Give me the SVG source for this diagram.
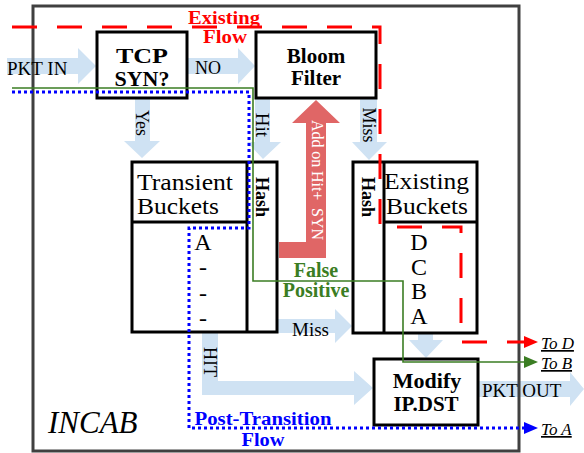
<svg xmlns="http://www.w3.org/2000/svg" width="584" height="453" viewBox="0 0 584 453">
<style>
text{font-family:"Liberation Serif","Times New Roman",serif;fill:#000}
.b{font-weight:bold}
.box{fill:#fff;stroke:#000;stroke-width:3}
.arr{fill:#cfe2f3}
.lbl{font-size:18px}
.rot{font-size:18px;text-anchor:middle;dominant-baseline:central}
.to{font-size:17px;font-style:italic;text-decoration:underline}
</style>
<rect width="584" height="453" fill="#fff"/>

<g id="flow-arrows">
  <polygon class="arr" points="7,58 78,58 78,48 96,66 78,84 78,74 7,74"/>
  <polygon class="arr" points="187,58 238,58 238,48 255,66 238,84 238,74 187,74"/>
  <polygon class="arr" points="135,98 150,98 150,141 160,141 142,158 124,141 135,141"/>
  <polygon class="arr" points="255,98 270,98 270,142 281,142 263,159 247,142 255,142"/>
  <polygon class="arr" points="360,98 377,98 377,142 387,142 369,160 352,142 360,142"/>
  <polygon class="arr" points="277,319 335,319 335,309 352,326 335,343 335,333 277,333"/>
  <polygon class="arr" points="202,332 218,332 218,381 354,381 354,371 373,388 354,405 354,395 202,395"/>
  <polygon class="arr" points="418,333 433,333 433,340 443,340 426,358 409,340 418,340"/>
  <polygon class="arr" points="478,381 570,381 570,372 584,389 570,406 570,397 478,397"/>
  <polygon fill="#e06666" points="316,100 340,123 326,123 326,258 279,258 279,242 306,242 306,123 292,123"/>
</g>

<rect id="incab" x="33" y="6" width="486" height="445" fill="none" stroke="#404040" stroke-width="3"/>

<g id="tcp-syn">
  <rect class="box" x="97" y="32" width="90" height="66"/>
  <text class="b" x="142" y="63" font-size="20" text-anchor="middle" textLength="52" lengthAdjust="spacingAndGlyphs">TCP</text>
  <text class="b" x="142" y="86" font-size="20" text-anchor="middle" textLength="55" lengthAdjust="spacingAndGlyphs">SYN?</text>
</g>
<g id="bloom-filter">
  <rect class="box" x="256" y="32" width="120" height="66"/>
  <text class="b" x="316" y="63" font-size="21" text-anchor="middle">Bloom</text>
  <text class="b" x="316" y="85" font-size="21" text-anchor="middle">Filter</text>
</g>
<g id="transient-buckets">
  <rect class="box" x="132" y="162" width="145" height="170"/>
  <line x1="247" y1="162" x2="247" y2="332" stroke="#000" stroke-width="3"/>
  <line x1="132" y1="222" x2="247" y2="222" stroke="#000" stroke-width="3"/>
  <text x="137" y="190" font-size="24" textLength="96" lengthAdjust="spacingAndGlyphs">Transient</text>
  <text x="137" y="214" font-size="24" textLength="82" lengthAdjust="spacingAndGlyphs">Buckets</text>
  <text class="rot b" transform="translate(262,197) rotate(90)">Hash</text>
  <text x="203" y="250" font-size="24" text-anchor="middle">A</text>
  <text x="203" y="275" font-size="24" text-anchor="middle">-</text>
  <text x="203" y="301" font-size="24" text-anchor="middle">-</text>
  <text x="203" y="326" font-size="24" text-anchor="middle">-</text>
</g>
<g id="existing-buckets">
  <rect class="box" x="353" y="162" width="124" height="171"/>
  <line x1="384" y1="162" x2="384" y2="333" stroke="#000" stroke-width="3"/>
  <line x1="384" y1="222" x2="477" y2="222" stroke="#000" stroke-width="3"/>
  <text x="384" y="189" font-size="24" textLength="85" lengthAdjust="spacingAndGlyphs">Existing</text>
  <text x="386" y="214" font-size="24" textLength="82" lengthAdjust="spacingAndGlyphs">Buckets</text>
  <text class="rot b" transform="translate(368,197) rotate(90)">Hash</text>
  <text x="419" y="250" font-size="24" text-anchor="middle">D</text>
  <text x="419" y="275" font-size="24" text-anchor="middle">C</text>
  <text x="419" y="299" font-size="24" text-anchor="middle">B</text>
  <text x="419" y="324" font-size="24" text-anchor="middle">A</text>
</g>
<g id="modify-ipdst">
  <rect class="box" x="374" y="359" width="104" height="66"/>
  <text class="b" x="427" y="388" font-size="22" text-anchor="middle">Modify</text>
  <text class="b" x="426" y="411" font-size="21" text-anchor="middle">IP.DST</text>
</g>

<g id="connectors" fill="none">
  <polyline points="12,27 380,27 380,227 461,227 461,342 525,342" stroke="#ff0000" stroke-width="3" stroke-dasharray="25 20"/>
  <polygon points="524,336 538,342 524,348" fill="#ff0000"/>
  <polyline points="12,88 253,88 253,281 403,281 403,362 525,362" stroke="#3b7d23" stroke-width="1.6"/>
  <polygon points="524,356 538,362 524,368" fill="#3b7d23"/>
  <polyline points="12,92 249,92 249,228 189,228 189,428 525,428" stroke="#0000ff" stroke-width="3" stroke-dasharray="3 3"/>
  <polygon points="524,422 538,428 524,434" fill="#0000ff"/>
</g>

<g id="labels">
  <text x="7" y="75" style="font-size:19px">PKT IN</text>
  <text class="lbl" x="195" y="74">NO</text>
  <text x="482" y="397" style="font-size:19px">PKT OUT</text>
  <text x="292" y="336" style="font-size:19px">Miss</text>
  <text class="rot" transform="translate(142,123) rotate(90)">Yes</text>
  <text class="rot" transform="translate(262,125) rotate(90)" style="font-size:19px">Hit</text>
  <text class="rot" transform="translate(369,125) rotate(90)">Miss</text>
  <text class="rot" transform="translate(210,362) rotate(90)">HIT</text>
  <text class="rot" transform="translate(317,180) rotate(90)" style="font-size:16px;fill:#fff" textLength="120" lengthAdjust="spacing" xml:space="preserve">Add on Hit+  SYN</text>
  <text class="b" x="224" y="24" font-size="19" text-anchor="middle" style="fill:#ff0000" textLength="72" lengthAdjust="spacingAndGlyphs">Existing</text>
  <text class="b" x="225" y="43" font-size="19" text-anchor="middle" style="fill:#ff0000" textLength="44" lengthAdjust="spacingAndGlyphs">Flow</text>
  <text class="b" x="316" y="277" font-size="20" text-anchor="middle" style="fill:#3b7d23">False</text>
  <text class="b" x="316" y="297" font-size="20" text-anchor="middle" style="fill:#3b7d23">Positive</text>
  <text class="b" x="263" y="425" font-size="18" text-anchor="middle" style="fill:#0000ff" textLength="137" lengthAdjust="spacingAndGlyphs">Post-Transition</text>
  <text class="b" x="263" y="446" font-size="18" text-anchor="middle" style="fill:#0000ff" textLength="43" lengthAdjust="spacingAndGlyphs">Flow</text>
  <text x="48" y="433" font-size="31" font-style="italic">INCAB</text>
  <text class="to" x="541" y="349">To D</text>
  <text class="to" x="541" y="369">To B</text>
  <text class="to" x="541" y="435">To A</text>
</g>
</svg>
